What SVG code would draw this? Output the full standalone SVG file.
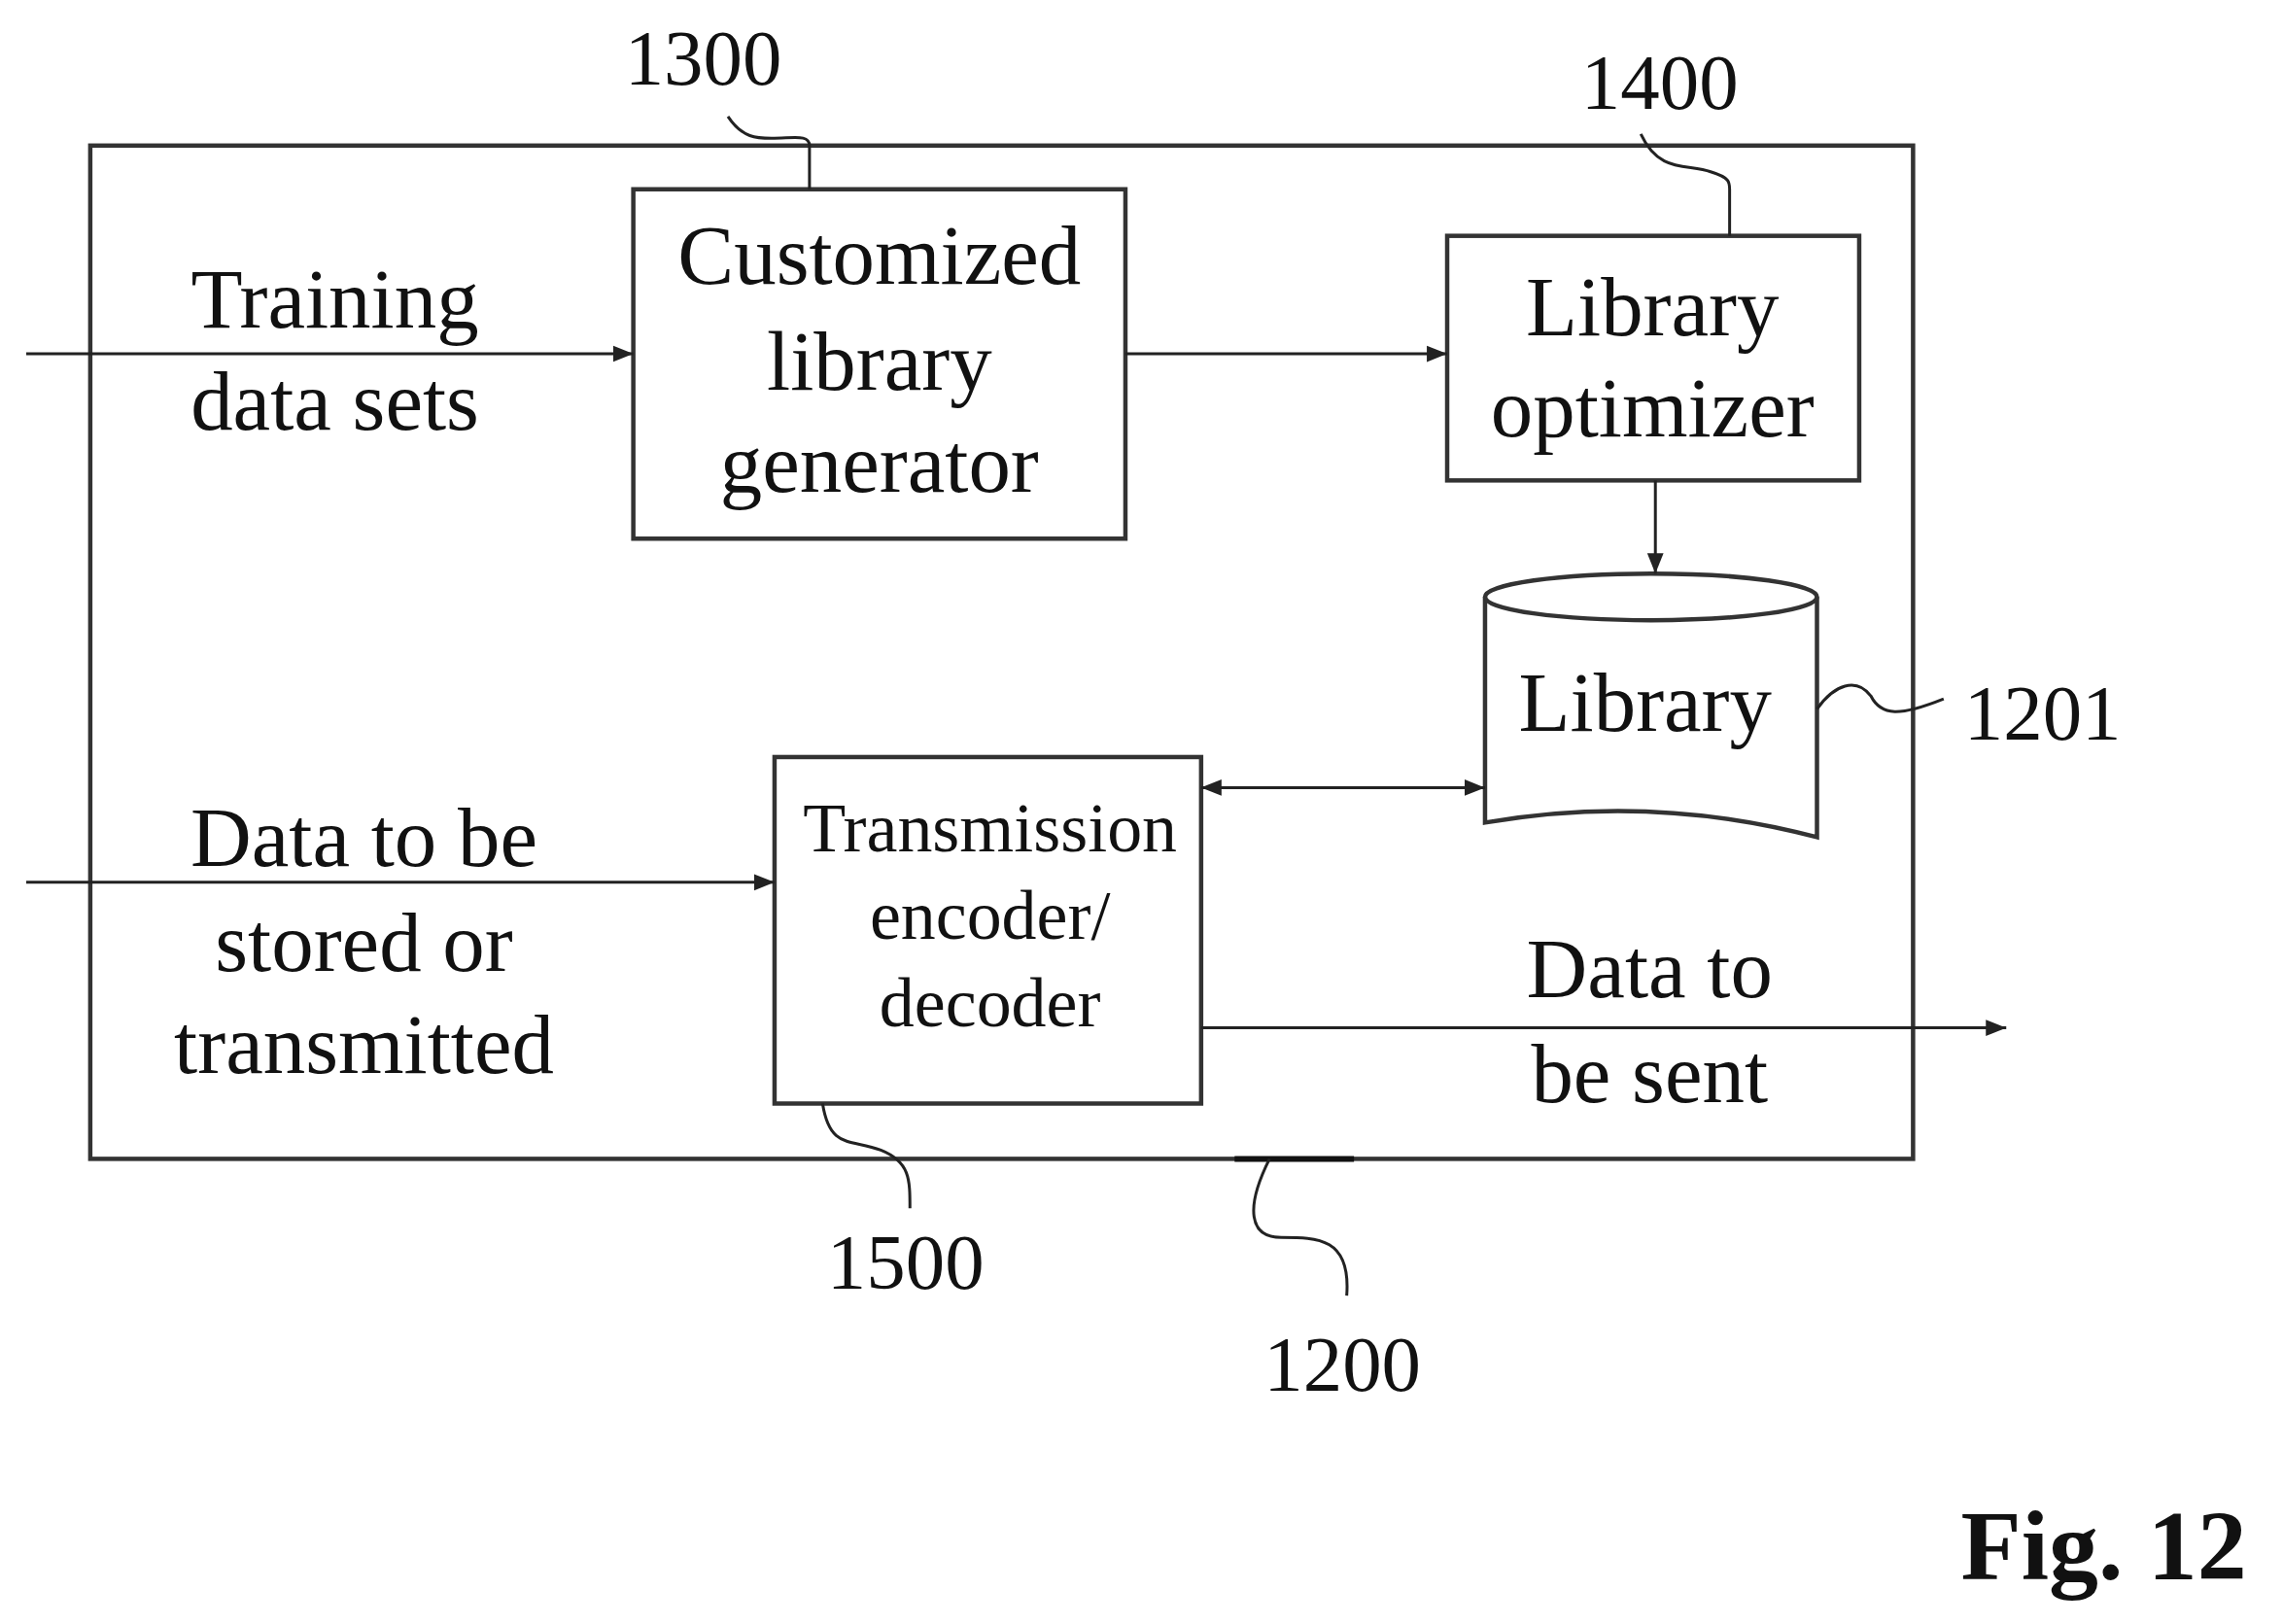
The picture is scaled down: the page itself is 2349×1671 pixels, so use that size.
<svg xmlns="http://www.w3.org/2000/svg" width="2349" height="1671" viewBox="0 0 2349 1671">
<style>
.b{fill:none;stroke:#333;stroke-width:3}
.c{fill:none;stroke:#222;stroke-width:2}
.t{font-family:"Liberation Serif",serif;font-size:58px;fill:#111;text-anchor:middle}
.s{font-family:"Liberation Serif",serif;font-size:48px;fill:#111;text-anchor:middle}
.n{font-family:"Liberation Serif",serif;font-size:54px;fill:#111;text-anchor:middle}
</style>
<defs><marker id="a" viewBox="0 0 10 10" refX="10" refY="5" markerWidth="7" markerHeight="7" orient="auto-start-reverse"><path d="M0,1 L10,5 L0,9 Z" fill="#222"/></marker></defs>
<rect width="2349" height="1671" fill="#fff"/>
<g transform="scale(1.498)">
<g id="n1200"><rect class="b" x="62" y="100" width="1252" height="696"/><line x1="848" y1="796" x2="930" y2="796" stroke="#111" stroke-width="4"/><path class="c" d="M872,796 C855,830 858,850 880,850 C905,850 928,850 925,890"/><text class="n" x="922" y="955">1200</text></g>
<g id="n1300"><rect class="b" x="435" y="130" width="338" height="240"/><text class="t" x="604" y="195">Customized</text><text class="t" x="604" y="268">library</text><text class="t" x="604" y="338">generator</text><path class="c" d="M500,80 C510,95 520,95 530,95 C545,95 556,92 556,100 L556,130"/><text class="n" x="483" y="58">1300</text></g>
<g id="n1400"><rect class="b" x="994" y="162" width="283" height="168"/><text class="t" x="1135" y="230">Library</text><text class="t" x="1135" y="300">optimizer</text><path class="c" d="M1127,92 C1140,120 1160,112 1175,118 C1188,122 1188,125 1188,130 L1188,162"/><text class="n" x="1140" y="75">1400</text></g>
<g id="n1201"><path class="b" d="M1020,410 L1020,565 Q1134,545 1248,575 L1248,410"/><ellipse class="b" cx="1134" cy="410" rx="114" ry="16"/><text class="t" x="1130" y="502">Library</text><path class="c" d="M1248,487 C1260,470 1275,465 1285,478 C1292,492 1305,492 1335,480"/><text class="n" x="1403" y="508">1201</text></g>
<g id="n1500"><rect class="b" x="532" y="520" width="293" height="238"/><text class="s" x="680" y="585">Transmission</text><text class="s" x="680" y="645">encoder/</text><text class="s" x="680" y="705">decoder</text><path class="c" d="M565,758 C570,790 585,782 605,790 C625,798 625,810 625,830"/><text class="n" x="622" y="885">1500</text></g>
<g id="labels"><text class="t" x="230" y="225">Training</text><text class="t" x="230" y="295">data sets</text><text class="t" x="250" y="595">Data to be</text><text class="t" x="250" y="667">stored or</text><text class="t" x="250" y="737">transmitted</text><text class="t" x="1133" y="685">Data to</text><text class="t" x="1133" y="757">be sent</text><text x="1445" y="1085" style="font-family:'Liberation Serif',serif;font-size:68px;font-weight:bold;text-anchor:middle;fill:#111">Fig.  12</text></g>
<g id="connectors">
<line class="c" x1="18" y1="243" x2="435" y2="243" marker-end="url(#a)"/>
<line class="c" x1="773" y1="243" x2="994" y2="243" marker-end="url(#a)"/>
<line class="c" x1="1137" y1="330" x2="1137" y2="394" marker-end="url(#a)"/>
<line class="c" x1="825" y1="541" x2="1020" y2="541" marker-start="url(#a)" marker-end="url(#a)"/>
<line class="c" x1="18" y1="606" x2="532" y2="606" marker-end="url(#a)"/>
<line class="c" x1="825" y1="706" x2="1378" y2="706" marker-end="url(#a)"/>
</g>
</g>
</svg>
